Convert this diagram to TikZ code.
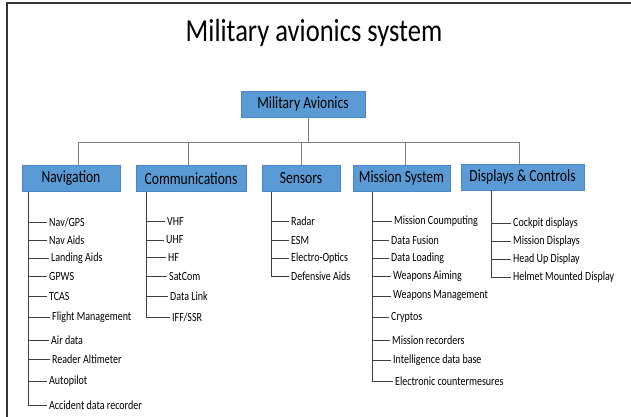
\documentclass[tikz,border=0pt]{standalone}
\usepackage{graphicx}
\usepackage{fontspec}
\setmainfont{Carlito}
\usetikzlibrary{positioning}
\definecolor{boxblue}{HTML}{5B9BD5}
\definecolor{boxedge}{HTML}{4A86C8}
\definecolor{linegray}{HTML}{808080}
\definecolor{framegray}{HTML}{333333}
\providecommand{\narrow}[1]{\scalebox{0.8}[1]{#1}}
\tikzstyle{block} = [draw=boxedge, fill=boxblue, rectangle, minimum height=26pt, inner sep=0pt, font={\fontsize{17pt}{19}\selectfont}]
\tikzstyle{item} = [rectangle, inner sep=2pt, anchor=west, font={\fontsize{12.5pt}{14}\selectfont}]
\tikzstyle{tree} = [draw=linegray, line width=0.8pt]
\tikzstyle{leaf} = [draw=black!75, line width=0.7pt]

\begin{document}
\begin{tikzpicture}[x=1pt, y=-1pt]
    \useasboundingbox (0,0) rectangle (631,417);
    \draw [framegray, line width=2pt] (631,3.5) -- (6.5,3.5) -- (6.5,417);
    \node (title) at (314,33) {\fontsize{32pt}{36}\selectfont\scalebox{0.83}[1]{Military avionics system}};

    \node [block, minimum width=124pt] (root) at (303,104) {\narrow{Military Avionics}};
    \node [block, minimum width=98pt] (nav) at (71,178.5) {\narrow{Navigation}};
    \node [block, minimum width=110pt] (comm) at (191,178.5) {\narrow{Communications}};
    \node [block, minimum width=78pt] (sens) at (301,178.5) {\narrow{Sensors}};
    \node [block, minimum width=97pt] (miss) at (401.5,178.5) {\narrow{Mission System}};
    \node [block, minimum width=123pt] (disp) at (522.5,177) {\narrow{Displays \& Controls}};

    % Tree from root to the five groups
    \draw [tree] ([xshift=5pt]root.south) -- ++(0,25) coordinate (bus);
    \draw [tree] (bus) -| ([xshift=7pt]nav.north);
    \draw [tree] (bus) -| ([xshift=-3pt]comm.north);
    \draw [tree] (bus) -| (sens.north);
    \draw [tree] (bus) -| ([xshift=3.5pt]miss.north);
    \draw [tree] (bus) -| ([xshift=-3.5pt]disp.north);

    % Navigation
    \coordinate (navspine) at (28,0);
    \node [item] (nv1) at (47,222) {\narrow{Nav/GPS}};
    \node [item] (nv2) at (47,240) {\narrow{Nav Aids}};
    \node [item] (nv3) at (49,258) {\narrow{Landing Aids}};
    \node [item] (nv4) at (47,276) {\narrow{GPWS}};
    \node [item] (nv5) at (47,296) {\narrow{TCAS}};
    \node [item] (nv6) at (50,317) {\narrow{Flight Management}};
    \node [item] (nv7) at (49,340) {\narrow{Air data}};
    \node [item] (nv8) at (50,359) {\narrow{Reader Altimeter}};
    \node [item] (nv9) at (47,381) {\narrow{Autopilot}};
    \node [item] (nv10) at (47,405) {\narrow{Accident data recorder}};
    \draw [leaf] (nav.south -| navspine) -- (navspine |- nv10);
    \draw [leaf] (navspine |- nv1) -- (nv1);
    \draw [leaf] (navspine |- nv2) -- (nv2);
    \draw [leaf] (navspine |- nv3) -- (nv3);
    \draw [leaf] (navspine |- nv4) -- (nv4);
    \draw [leaf] (navspine |- nv5) -- (nv5);
    \draw [leaf] (navspine |- nv6) -- (nv6);
    \draw [leaf] (navspine |- nv7) -- (nv7);
    \draw [leaf] (navspine |- nv8) -- (nv8);
    \draw [leaf] (navspine |- nv9) -- (nv9);
    \draw [leaf] (navspine |- nv10) -- (nv10);

    % Communications
    \coordinate (comspine) at (146,0);
    \node [item] (cm1) at (165,221) {\narrow{VHF}};
    \node [item] (cm2) at (164,240) {\narrow{UHF}};
    \node [item] (cm3) at (166,257) {\narrow{HF}};
    \node [item] (cm4) at (167,276) {\narrow{SatCom}};
    \node [item] (cm5) at (168,296) {\narrow{Data Link}};
    \node [item] (cm6) at (170,317) {\narrow{IFF/SSR}};
    \draw [leaf] (comm.south -| comspine) -- (comspine |- cm6);
    \draw [leaf] (comspine |- cm1) -- (cm1);
    \draw [leaf] (comspine |- cm2) -- (cm2);
    \draw [leaf] (comspine |- cm3) -- (cm3);
    \draw [leaf] (comspine |- cm4) -- (cm4);
    \draw [leaf] (comspine |- cm5) -- (cm5);
    \draw [leaf] (comspine |- cm6) -- (cm6);

    % Sensors
    \coordinate (senspine) at (271,0);
    \node [item] (sn1) at (289,221) {\narrow{Radar}};
    \node [item] (sn2) at (289,240) {\narrow{ESM}};
    \node [item] (sn3) at (289,258) {\narrow{Electro-Optics}};
    \node [item] (sn4) at (289,276) {\narrow{Defensive Aids}};
    \draw [leaf] (sens.south -| senspine) -- (senspine |- sn4);
    \draw [leaf] (senspine |- sn1) -- (sn1);
    \draw [leaf] (senspine |- sn2) -- (sn2);
    \draw [leaf] (senspine |- sn3) -- (sn3);
    \draw [leaf] (senspine |- sn4) -- (sn4);

    % Mission System
    \coordinate (misspine) at (372,0);
    \node [item] (ms1) at (392,221) {\narrow{Mission Coumputing}};
    \node [item] (ms2) at (389,240) {\narrow{Data Fusion}};
    \node [item] (ms3) at (389,258) {\narrow{Data Loading}};
    \node [item] (ms4) at (391,276) {\narrow{Weapons Aiming}};
    \node [item] (ms5) at (391,296) {\narrow{Weapons Management}};
    \node [item] (ms6) at (389,317) {\narrow{Cryptos}};
    \node [item] (ms7) at (390,340) {\narrow{Mission recorders}};
    \node [item] (ms8) at (391,360) {\narrow{Intelligence data base}};
    \node [item] (ms9) at (393,381) {\narrow{Electronic countermesures}};
    \draw [leaf] (miss.south -| misspine) -- (misspine |- ms9);
    \draw [leaf] (misspine |- ms1) -- (ms1);
    \draw [leaf] (misspine |- ms2) -- (ms2);
    \draw [leaf] (misspine |- ms3) -- (ms3);
    \draw [leaf] (misspine |- ms4) -- (ms4);
    \draw [leaf] (misspine |- ms5) -- (ms5);
    \draw [leaf] (misspine |- ms6) -- (ms6);
    \draw [leaf] (misspine |- ms7) -- (ms7);
    \draw [leaf] (misspine |- ms8) -- (ms8);
    \draw [leaf] (misspine |- ms9) -- (ms9);

    % Displays & Controls
    \coordinate (disspine) at (491,0);
    \node [item] (ds1) at (511,223) {\narrow{Cockpit displays}};
    \node [item] (ds2) at (511,241) {\narrow{Mission Displays}};
    \node [item] (ds3) at (511,259) {\narrow{Head Up Display}};
    \node [item] (ds4) at (511,277) {\narrow{Helmet Mounted Display}};
    \draw [leaf] (disp.south -| disspine) -- (disspine |- ds4);
    \draw [leaf] (disspine |- ds1) -- (ds1);
    \draw [leaf] (disspine |- ds2) -- (ds2);
    \draw [leaf] (disspine |- ds3) -- (ds3);
    \draw [leaf] (disspine |- ds4) -- (ds4);
\end{tikzpicture}
\end{document}
